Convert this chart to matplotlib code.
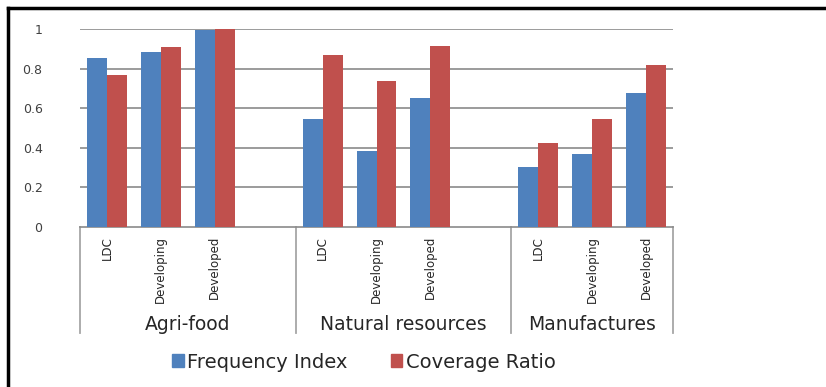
import matplotlib

matplotlib.use("Agg")
import matplotlib.pyplot as plt
from matplotlib.lines import Line2D
from matplotlib.patches import Patch
import numpy as np

plt.rcParams["font.family"] = ["DejaVu Sans"]

# values
groups = ["Agri-food", "Natural resources", "Manufactures"]
levels = ["LDC", "Developing", "Developed"]
freq_index = [0.855, 0.886, 0.993, 0.545, 0.385, 0.653, 0.305, 0.369, 0.678]
coverage_ratio = [0.768, 0.910, 1.0, 0.869, 0.737, 0.914, 0.426, 0.545, 0.818]
series_names = ["Frequency Index", "Coverage Ratio"]
yticks = [0, 0.2, 0.4, 0.6, 0.8, 1.0]
ytick_labels = ["0", "0.2", "0.4", "0.6", "0.8", "1"]

BLUE = "#4F81BD"
RED = "#C0504D"
GRID = "#8A8A8A"
SEP = "#A6A6A6"
TXT = "#262626"

# Excel-style layout: each group keeps a blank slot after it except the last
slot_of = []
group_spans = []
slot = 0
for gi, g in enumerate(groups):
    start = slot
    for _ in levels:
        slot_of.append(slot)
        slot += 1
    if gi < len(groups) - 1:
        slot += 1
    group_spans.append((start, slot))
n_slots = slot
centers = np.array(slot_of) + 0.5

W, H = 826, 387
fig = plt.figure(figsize=(W / 100, H / 100), dpi=100)
ax = fig.add_axes([80 / W, 1 - 227 / H, (673 - 80) / W, (227 - 29) / H])

bw = 0.37
ax.bar(centers - bw / 2, freq_index, width=bw, color=BLUE, zorder=3)
ax.bar(centers + bw / 2, coverage_ratio, width=bw, color=RED, zorder=3)

ax.set_xlim(0, n_slots)
ax.set_ylim(0, 1)
ax.set_yticks(yticks)
ax.set_yticklabels(ytick_labels)
ax.tick_params(axis="y", length=0, pad=27, labelsize=9, labelcolor="#404040")
ax.set_xticks([])
for s in ["top", "right", "left"]:
    ax.spines[s].set_visible(False)
ax.spines["bottom"].set_color(GRID)
ax.spines["bottom"].set_linewidth(1.2)
for y in yticks[1:]:
    ax.axhline(y, color=GRID, lw=1.2, zorder=1)

# category table below the axis
trans = ax.get_xaxis_transform()
edges = [s for s, _ in group_spans] + [n_slots]
for x in edges:
    ax.plot([x, x], [0, -0.535], color=SEP, lw=1.3, transform=trans,
            clip_on=False)
for i, c in enumerate(centers):
    ax.text(c, -0.045, levels[i % len(levels)], rotation=90, ha="center",
            va="top", fontsize=8.5, color=TXT, transform=trans)
for g, (s, e) in zip(groups, group_spans):
    ax.text((s + e) / 2, -0.49, g, ha="center", va="center", fontsize=13.5,
            color=TXT, transform=trans)

handles = [Patch(color=BLUE), Patch(color=RED)]
fig.legend(handles, series_names, loc="center", ncol=2, frameon=False,
           bbox_to_anchor=(364 / W, 1 - 362 / H), fontsize=14,
           handlelength=0.6, handleheight=0.6, handletextpad=0.2,
           columnspacing=2.2, labelcolor=TXT)

# black frame around the picture (top and left visible)
fig.add_artist(Line2D([8 / W, 1], [1 - 8 / H, 1 - 8 / H], color="black",
                      lw=2.5, transform=fig.transFigure))
fig.add_artist(Line2D([8 / W, 8 / W], [0, 1 - 8 / H], color="black",
                      lw=2.5, transform=fig.transFigure))

fig.savefig("out.png", dpi=100)
